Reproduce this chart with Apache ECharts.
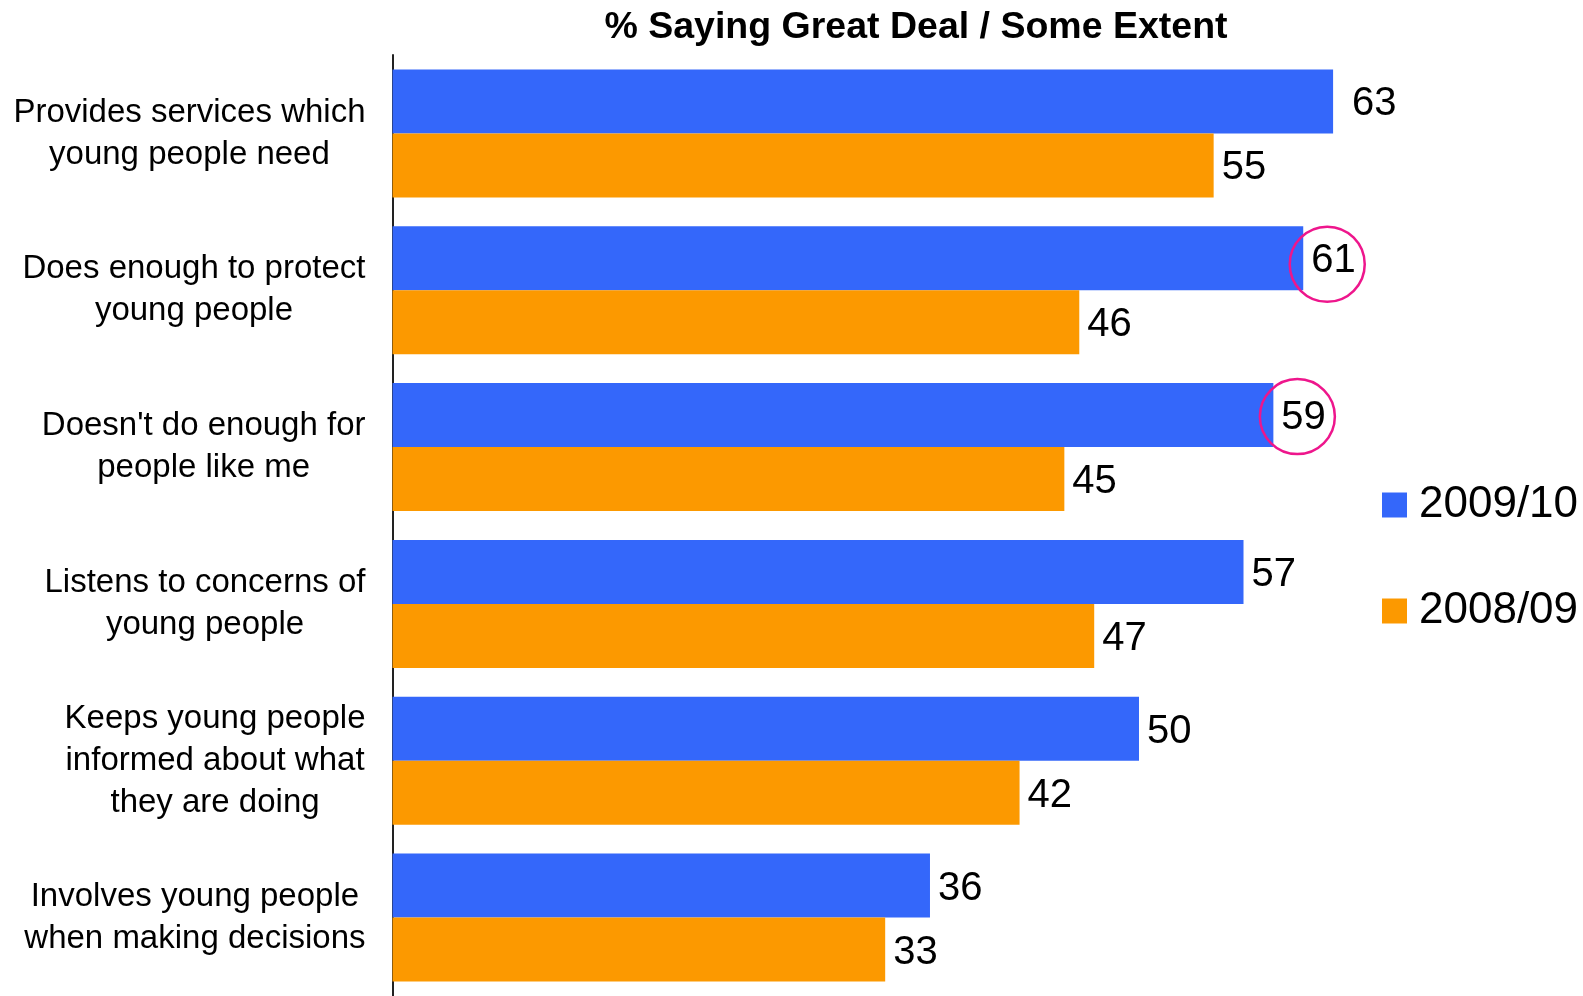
<!DOCTYPE html>
<html><head><meta charset="utf-8">
<script src="https://cdn.jsdelivr.net/npm/echarts@6/dist/echarts.min.js"></script>
<style>html,body{margin:0;padding:0;background:#fff}#c{width:1583px;height:996px}</style>
</head><body><div id="c"></div>
<script>
const categories = [
  "Provides services which\nyoung people need",
  "Does enough to protect\nyoung people",
  "Doesn't do enough for\npeople like me",
  "Listens to concerns of\nyoung people",
  "Keeps young people\ninformed about what\nthey are doing",
  "Involves young people\nwhen making decisions"
];
const seriesNames = ["2009/10", "2008/09"];
const values2009 = [63, 61, 59, 57, 50, 36];
const values2008 = [55, 46, 45, 47, 42, 33];
const titleText = "% Saying Great Deal / Some Extent";
const circledIdx = [1, 2];

const FONT = "'Liberation Sans', Arial, sans-serif";
const BLUE = '#3467FA', ORANGE = '#FC9900', PINK = '#EE168C';

const chart = echarts.init(document.getElementById('c'), null, {renderer: 'canvas'});
const circleOffsets = [[24, 6], [24, 1.5]];
chart.setOption({
  animation: false,
  backgroundColor: '#fff',
  title: {
    text: titleText, left: 911, top: 4, textAlign: 'center',
    textStyle: {fontFamily: FONT, fontSize: 37.5, fontWeight: 'bold', color: '#000'}
  },
  legend: {
    orient: 'vertical', left: 1377, top: 478, itemWidth: 25, itemHeight: 25, itemGap: 62,
    icon: 'rect',
    data: seriesNames,
    textStyle: {fontFamily: FONT, fontSize: 44, color: '#000', padding: [0, 0, 0, 7]}
  },
  grid: {left: 392.5, top: 55, width: 70 * 14.93, height: 955, containLabel: false},
  xAxis: {type: 'value', min: 0, max: 70, show: false},
  yAxis: {
    type: 'category', data: categories, inverse: true,
    axisTick: {show: false},
    axisLine: {lineStyle: {color: '#222', width: 2}},
    axisLabel: {
      interval: 0, margin: 27, color: '#000',
      formatter: v => v.split('\n').map(s => '{c|' + s + '}').join('\n'),
      rich: {c: {align: 'center', fontFamily: FONT, fontSize: 33, lineHeight: 42, color: '#000'}}
    }
  },
  series: [
    {
      name: seriesNames[0], type: 'bar', barWidth: 64, barGap: '0%',
      itemStyle: {color: BLUE},
      data: values2009.map((v, i) => i === 0 ? {value: v, label: {distance: 19}} : v),
      label: {show: true, position: 'right', distance: 8, offset: [0, 3], fontFamily: FONT, fontSize: 40, color: '#000'},
      markPoint: {
        symbol: 'circle', symbolSize: 75, silent: true,
        itemStyle: {color: 'rgba(0,0,0,0)', borderColor: PINK, borderWidth: 2.5},
        label: {show: false},
        data: circledIdx.map((i, k) => ({coord: [values2009[i], categories[i]], symbolOffset: circleOffsets[k]}))
      }
    },
    {
      name: seriesNames[1], type: 'bar', barWidth: 64, barGap: '0%',
      itemStyle: {color: ORANGE},
      data: values2008,
      label: {show: true, position: 'right', distance: 8, offset: [0, 3], fontFamily: FONT, fontSize: 40, color: '#000'}
    }
  ]
});
</script>
</body></html>
